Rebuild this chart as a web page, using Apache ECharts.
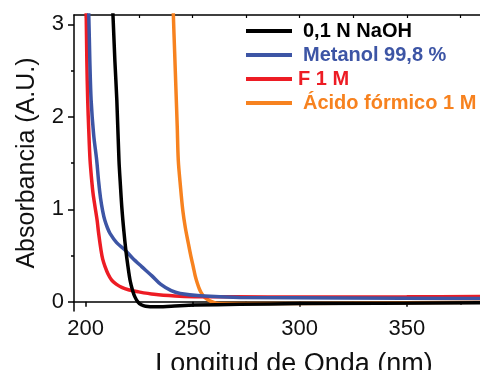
<!DOCTYPE html>
<html>
<head>
<meta charset="utf-8">
<script src="https://cdn.jsdelivr.net/npm/echarts@6/dist/echarts.min.js"></script>
<style>
  html, body { margin: 0; padding: 0; background: #fff; }
  #chart { width: 480px; height: 370px; }
</style>
</head>
<body>
<div id="chart"></div>
<script>
// tick positions
const xTicks = [200, 250, 300, 350];
const xMinorTicks = [225, 275, 325, 375];
const xTopTicks = [200, 225, 250, 275, 300, 325, 350, 375];
const yTicks = [0, 1, 2, 3];
const yMinorTicks = [0.5, 1.5, 2.5];

// legend names
const names = ['0,1 N NaOH', 'Metanol 99,8 %', 'F 1 M', 'Ácido fórmico 1 M'];

// 0,1 N NaOH
const naohX = [212.3, 212.8, 213.7, 214.6, 215.6, 216.3, 217, 217.9, 218.8, 219.8, 220.8, 222, 223.1, 224.5, 226, 228, 232.5, 240, 251, 272, 300, 386];
const naohY = [3.35, 3.1, 2.6, 2.18, 1.53, 1.25, 1.0, 0.76, 0.56, 0.38, 0.23, 0.12, 0.05, -0.005, -0.033, -0.048, -0.055, -0.048, -0.036, -0.028, -0.02, -0.012];

// Metanol 99,8 %
const metX = [201.0, 201.5, 202.0, 202.6, 203.8, 205.2, 206.1, 207, 208, 209, 210.2, 211.4, 214.5, 218.4, 222, 226.2, 231, 235, 240, 244.2, 253.5, 272, 320, 386];
const metY = [3.35, 3.1, 2.6, 2.18, 1.8, 1.53, 1.3, 1.12, 0.98, 0.88, 0.8, 0.74, 0.64, 0.56, 0.47, 0.38, 0.28, 0.19, 0.12, 0.09, 0.065, 0.047, 0.04, 0.035];

// F 1 M
const fX = [200.0, 200.3, 200.6, 201, 201.5, 202.1, 202.8, 203.5, 204.4, 205.4, 206.1, 207.2, 208, 209.1, 210.5, 212.2, 214.3, 216.9, 220, 224.5, 232, 241.8, 251, 270, 300, 350, 386];
const fY = [3.35, 3.1, 2.6, 2.18, 1.85, 1.53, 1.33, 1.17, 1.03, 0.88, 0.74, 0.56, 0.46, 0.38, 0.3, 0.234, 0.19, 0.155, 0.13, 0.108, 0.08, 0.062, 0.055, 0.053, 0.052, 0.053, 0.057];

// Ácido fórmico 1 M
const acX = [240.8, 241, 241.6, 242.2, 242.8, 243.3, 244.3, 245.4, 246.6, 248, 249.2, 250.3, 251.2, 252.2, 253.2, 254.2, 255.7, 257.3, 259, 261.2, 265, 280, 320, 386];
const acY = [3.35, 3.1, 2.7, 2.3, 1.9, 1.53, 1.25, 0.99, 0.8, 0.63, 0.49, 0.378, 0.28, 0.2, 0.135, 0.09, 0.045, 0.018, 0.0, -0.015, -0.02, -0.02, -0.015, -0.005];

const colors = ['#000000', '#3D55A5', '#ED1C24', '#F7821F'];
const zOrder = [5, 4, 3, 2];

function pairs(xs, ys) {
  return xs.map((x, i) => [x, ys[i]]);
}
const seriesData = [pairs(naohX, naohY), pairs(metX, metY), pairs(fX, fY), pairs(acX, acY)];

const font = 'Liberation Sans';
const axisLine = { show: true, lineStyle: { color: '#000', width: 1.5 } };

const chart = echarts.init(document.getElementById('chart'));
chart.setOption({
  animation: false,
  grid: { left: 74, right: 0, top: 15, bottom: 59, containLabel: false, outerBoundsMode: 'none' },
  legend: {
    orient: 'vertical',
    left: 241,
    top: 16,
    itemWidth: 46,
    itemHeight: 4,
    itemGap: 4,
    icon: 'rect',
    textStyle: { fontFamily: font, fontSize: 20, fontWeight: 'bold', lineHeight: 19 },
    data: names.map((n, i) => ({
      name: n,
      textStyle: { color: colors[i], padding: i === 2 ? [0, 0, 0, 1] : [0, 0, 0, 6] }
    }))
  },
  xAxis: [
    {
      type: 'value', min: 194.6, max: 384.2, position: 'bottom',
      axisLine: axisLine,
      axisTick: { customValues: xTicks, length: 5, lineStyle: { color: '#000', width: 1.5 } },
      axisLabel: { customValues: xTicks, fontFamily: font, fontSize: 22, color: '#111', margin: 7 },
      splitLine: { show: false },
      name: 'Longitud de Onda (nm)',
      nameLocation: 'middle',
      nameGap: 40,
      nameTextStyle: { fontFamily: font, fontSize: 27, color: '#111', padding: [0, 0, 0, 34] }
    },
    {
      type: 'value', min: 194.6, max: 384.2, position: 'bottom',
      axisLine: { show: false },
      axisTick: { customValues: xMinorTicks, length: 3, lineStyle: { color: '#000', width: 1.5 } },
      axisLabel: { show: false },
      splitLine: { show: false }
    },
    {
      type: 'value', min: 194.6, max: 384.2, position: 'top',
      axisLine: axisLine,
      axisTick: { customValues: xTopTicks, inside: true, length: 3, lineStyle: { color: '#000', width: 1.2 } },
      axisLabel: { show: false },
      splitLine: { show: false }
    }
  ],
  yAxis: [
    {
      type: 'value', min: -0.1, max: 3.1, position: 'left',
      axisLine: axisLine,
      axisTick: { customValues: yTicks, length: 6, lineStyle: { color: '#000', width: 1.5 } },
      axisLabel: { customValues: yTicks, fontFamily: font, fontSize: 22, color: '#111', margin: 10 },
      splitLine: { show: false },
      name: 'Absorbancia (A.U.)',
      nameLocation: 'middle',
      nameGap: 34,
      nameTextStyle: { fontFamily: font, fontSize: 25, color: '#111' }
    },
    {
      type: 'value', min: -0.1, max: 3.1, position: 'left',
      axisLine: { show: false },
      axisTick: { customValues: yMinorTicks, length: 3, lineStyle: { color: '#000', width: 1.5 } },
      axisLabel: { show: false },
      splitLine: { show: false }
    }
  ],
  series: names.map((n, i) => ({
    name: n,
    type: 'line',
    data: seriesData[i],
    showSymbol: false,
    smooth: 0.3,
    clip: true,
    z: zOrder[i],
    itemStyle: { color: colors[i] },
    lineStyle: { color: colors[i], width: 3.5 }
  }))
});
window.addEventListener('resize', () => chart.resize());
</script>
</body>
</html>
